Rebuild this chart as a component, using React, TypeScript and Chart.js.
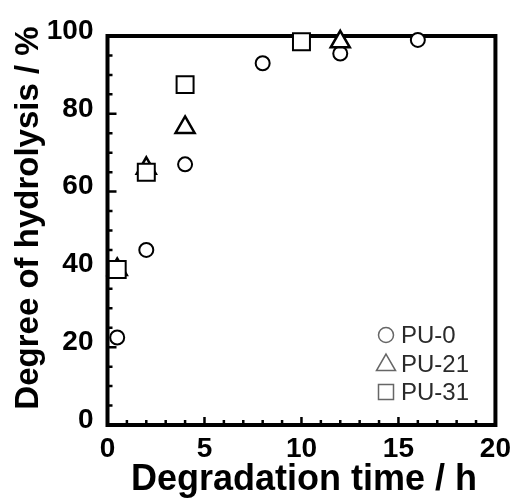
import React, { useEffect, useRef } from "react";
import { Chart, registerables } from "chart.js";

Chart.register(...registerables);

// ---- data ----
const seriesNames = ["PU-0", "PU-21", "PU-31"];
const timePU0 = [0.5, 2, 4, 8, 12, 16];
const valPU0 = [22.5, 45, 67, 93, 95.5, 99];
const timePU21 = [0.5, 2, 4, 12];
const valPU21 = [40, 66, 76.5, 98.5];
const timePU31 = [0.5, 2, 4, 10];
const valPU31 = [40, 65, 87.5, 98.5];
const xTickValues = [0, 5, 10, 15, 20];
const yTickValues = [0, 20, 40, 60, 80, 100];
const xTitle = "Degradation time / h";
const yTitle = "Degree of hydrolysis / %";

const FONT = "'Liberation Sans', Arial, Helvetica, sans-serif";

const toPoints = (xs: number[], ys: number[]) => xs.map((x, i) => ({ x, y: ys[i] }));

const framePlugin = {
  id: "frameAndTitles",
  beforeDatasetsDraw(chart: any) {
    const { ctx, chartArea: a, scales } = chart;
    const xs = scales.x;
    const ys = scales.y;
    ctx.save();
    ctx.strokeStyle = "#000";
    ctx.lineWidth = 2.5;
    ctx.beginPath();
    for (let v = 0; v <= 20; v += 1) {
      const px = xs.getPixelForValue(v);
      const len = v % 5 === 0 ? 8 : 5;
      ctx.moveTo(px, a.bottom);
      ctx.lineTo(px, a.bottom - len);
    }
    for (let v = 0; v <= 100; v += 5) {
      const py = ys.getPixelForValue(v);
      const len = v % 20 === 0 ? 9 : 5;
      ctx.moveTo(a.left, py);
      ctx.lineTo(a.left + len, py);
    }
    ctx.stroke();
    ctx.lineWidth = 4;
    ctx.strokeRect(a.left, a.top, a.right - a.left, a.bottom - a.top);

    ctx.fillStyle = "#000";
    ctx.textAlign = "center";
    ctx.textBaseline = "alphabetic";
    ctx.font = `bold 36px ${FONT}`;
    ctx.fillText(xTitle, 304, 490);
    ctx.font = `bold 33px ${FONT}`;
    ctx.translate(38, 218);
    ctx.rotate(-Math.PI / 2);
    ctx.fillText(yTitle, 0, 0);
    ctx.restore();
  },
  afterDraw(chart: any) {
    const { ctx } = chart;
    ctx.save();
    const sx = 386;
    const rows = [343, 372, 400];
    ctx.strokeStyle = "#666";
    ctx.lineWidth = 1.5;
    // circle
    ctx.beginPath();
    ctx.arc(sx, rows[0] - 8, 7.5, 0, Math.PI * 2);
    ctx.stroke();
    // triangle
    const tr = 11;
    const tcy = rows[1] - 8 + 1;
    ctx.beginPath();
    ctx.moveTo(sx, tcy - tr);
    ctx.lineTo(sx + (tr * Math.sqrt(3)) / 2, tcy + tr / 2);
    ctx.lineTo(sx - (tr * Math.sqrt(3)) / 2, tcy + tr / 2);
    ctx.closePath();
    ctx.stroke();
    // square
    ctx.beginPath();
    ctx.rect(sx - 7.5, rows[2] - 8 - 7.5, 15, 15);
    ctx.stroke();

    ctx.fillStyle = "#2a2a2a";
    ctx.font = `24px ${FONT}`;
    ctx.textAlign = "left";
    ctx.textBaseline = "alphabetic";
    seriesNames.forEach((n, i) => ctx.fillText(n, 401, rows[i]));
    ctx.restore();
  },
};

export default function App() {
  const ref = useRef<HTMLCanvasElement | null>(null);
  useEffect(() => {
    if (!ref.current) return;
    const base = {
      borderColor: "#000",
      backgroundColor: "#fff",
      pointBackgroundColor: "#fff",
      pointBorderColor: "#000",
      clip: false as any,
    };
    const chart = new Chart(ref.current, {
      type: "scatter",
      data: {
        datasets: [
          {
            ...base,
            label: seriesNames[0],
            data: toPoints(timePU0, valPU0),
            pointStyle: "circle",
            pointRadius: 7,
            pointBorderWidth: 2,
            order: 3,
          },
          {
            ...base,
            label: seriesNames[1],
            data: toPoints(timePU21, valPU21),
            pointStyle: "triangle",
            pointRadius: 11,
            pointBorderWidth: 2.5,
            order: 2,
          },
          {
            ...base,
            label: seriesNames[2],
            data: toPoints(timePU31, valPU31),
            pointStyle: "rect",
            pointRadius: 12,
            pointBorderWidth: 2,
            order: 1,
          },
        ],
      },
      options: {
        responsive: false,
        animation: false,
        events: [],
        layout: { padding: { top: 36, right: 19.5, left: 0, bottom: 0 } },
        plugins: { legend: { display: false }, tooltip: { enabled: false } },
        scales: {
          x: {
            type: "linear",
            position: "bottom",
            min: 0,
            max: 20,
            grid: { display: false, drawTicks: false },
            border: { display: false },
            ticks: {
              color: "#000",
              font: { family: FONT, size: 28, weight: "bold" },
              padding: 7,
              maxRotation: 0,
            },
            afterBuildTicks: (s: any) => {
              s.ticks = xTickValues.map((v) => ({ value: v }));
            },
            afterFit: (s: any) => {
              s.height = 75;
            },
          },
          y: {
            type: "linear",
            min: 0,
            max: 100,
            grid: { display: false, drawTicks: false },
            border: { display: false },
            ticks: {
              color: "#000",
              font: { family: FONT, size: 28, weight: "bold" },
              padding: 14,
              labelOffset: -5,
            },
            afterBuildTicks: (s: any) => {
              s.ticks = yTickValues.map((v) => ({ value: v }));
            },
            afterFit: (s: any) => {
              s.width = 107.5;
            },
          },
        },
      },
      plugins: [framePlugin],
    });
    return () => chart.destroy();
  }, []);
  return (
    <div style={{ position: "absolute", left: 0, top: 0, width: 518, height: 500, background: "#fff" }}>
      <canvas ref={ref} width={518} height={500} />
    </div>
  );
}
